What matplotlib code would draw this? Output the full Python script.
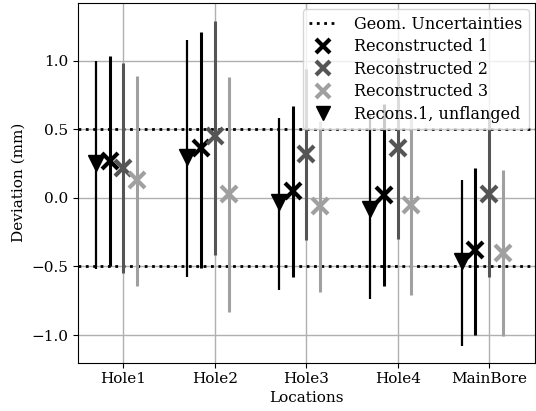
import numpy as np
import matplotlib
matplotlib.use("Agg")
import matplotlib.pyplot as plt
from matplotlib.lines import Line2D

locations = ["Hole1", "Hole2", "Hole3", "Hole4", "MainBore"]

# values and (lower, upper) error bar ends
recon1_unfl = [0.25, 0.30, -0.03, -0.08, -0.46]
recon1_unfl_lo = [-0.52, -0.58, -0.67, -0.74, -1.08]
recon1_unfl_hi = [1.00, 1.15, 0.58, 0.60, 0.13]

recon1 = [0.27, 0.36, 0.05, 0.02, -0.38]
recon1_lo = [-0.50, -0.51, -0.58, -0.64, -1.00]
recon1_hi = [1.03, 1.21, 0.67, 0.68, 0.22]

recon2 = [0.22, 0.45, 0.32, 0.36, 0.03]
recon2_lo = [-0.55, -0.42, -0.31, -0.30, -0.58]
recon2_hi = [0.98, 1.29, 0.94, 1.02, 0.62]

recon3 = [0.13, 0.03, -0.06, -0.05, -0.40]
recon3_lo = [-0.64, -0.83, -0.69, -0.71, -1.01]
recon3_hi = [0.89, 0.88, 0.56, 0.60, 0.20]

geom_unc = 0.5

plt.rcParams['font.family'] = 'DejaVu Serif'
plt.rcParams['font.size'] = 11

fig, ax = plt.subplots(figsize=(5.36, 4.11), dpi=100)
x = np.arange(len(locations))

def yerr(v, lo, hi):
    v = np.array(v)
    return [v - np.array(lo), np.array(hi) - v]

ax.axhline(geom_unc, color='k', ls=':', lw=2, zorder=3)
ax.axhline(-geom_unc, color='k', ls=':', lw=2, zorder=3)

c1, c2, c3 = 'k', '#555555', '#a0a0a0'
ax.errorbar(x, recon1, yerr=yerr(recon1, recon1_lo, recon1_hi), fmt='x', color=c1,
            ms=11, mew=3, elinewidth=2.2, zorder=4)
ax.errorbar(x + 0.15, recon2, yerr=yerr(recon2, recon2_lo, recon2_hi), fmt='x', color=c2,
            ms=11, mew=3, elinewidth=2.2, zorder=4)
ax.errorbar(x + 0.3, recon3, yerr=yerr(recon3, recon3_lo, recon3_hi), fmt='x', color=c3,
            ms=11, mew=3, elinewidth=2.2, zorder=4)
ax.errorbar(x - 0.15, recon1_unfl, yerr=yerr(recon1_unfl, recon1_unfl_lo, recon1_unfl_hi), fmt='v',
            color='k', ms=11, elinewidth=1.6, zorder=4)

ax.set_xticks(x + 0.15)
ax.set_xticklabels(locations)
ax.set_xlim(-0.35, 4.65)
ax.set_ylim(-1.2, 1.42)
ax.grid(True, color='#b0b0b0', lw=1)
ax.set_axisbelow(True)
ax.set_xlabel('Locations', labelpad=3.5)
ax.set_ylabel('Deviation (mm)')

handles = [
    Line2D([], [], color='k', ls=':', lw=2),
    Line2D([], [], color=c1, marker='x', ls='', ms=10, mew=3),
    Line2D([], [], color=c2, marker='x', ls='', ms=10, mew=3),
    Line2D([], [], color=c3, marker='x', ls='', ms=10, mew=3),
    Line2D([], [], color='k', marker='v', ls='', ms=10),
]
labels = ['Geom. Uncertainties', 'Reconstructed 1', 'Reconstructed 2',
          'Reconstructed 3', 'Recons.1, unflanged']
ax.legend(handles, labels, loc='upper right', fontsize=11.5, handlelength=1.8,
          handletextpad=1.0, borderaxespad=0.4, labelspacing=0.35)

plt.subplots_adjust(left=0.145, right=0.998, top=0.993, bottom=0.118)
plt.savefig('out.png', dpi=100)
